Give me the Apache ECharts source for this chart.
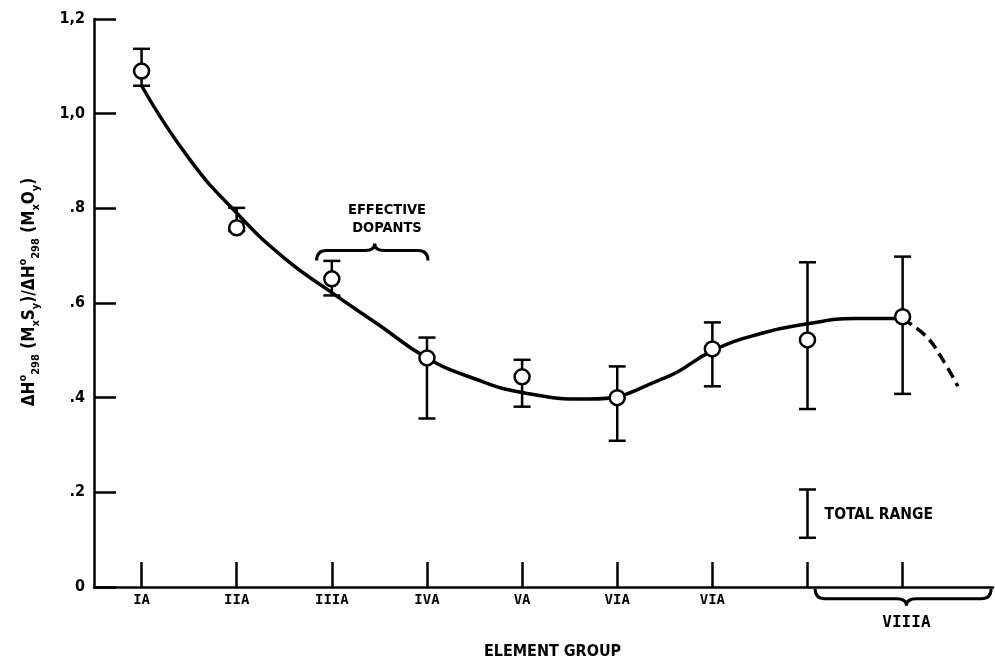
<!DOCTYPE html>
<html>
<head>
<meta charset="utf-8">
<style>
  html, body { margin: 0; padding: 0; background: #fff; }
  #chart { width: 995px; height: 665px; }
</style>
<script src="https://cdn.jsdelivr.net/npm/echarts@6/dist/echarts.min.js"></script>
</head>
<body>
<div id="chart"></div>
<script>
// element groups along x (index 0..8), last two ticks unlabeled (VIIIA brace)
const groupLabels = ['IA', 'IIA', 'IIIA', 'IVA', 'VA', 'VIA', 'VIA', '', '']
const groupPos = [0, 1, 2, 3, 4, 5, 6, 7, 8]

const yTicks = [0, 0.2, 0.4, 0.6, 0.8, 1.0, 1.2]
const yTickLabels = ['0', '.2', '.4', '.6', '.8', '1,0', '1,2']

// measured points with error bars
const pointMid = [1.090, 0.759, 0.651, 0.484, 0.444, 0.400, 0.503, 0.522, 0.571]
const pointHigh = [1.137, 0.801, 0.689, 0.527, 0.480, 0.466, 0.559, 0.686, 0.698]
const pointLow = [1.059, 0.752, 0.616, 0.356, 0.381, 0.309, 0.424, 0.376, 0.408]

// fitted curve (solid) and its dashed extension
const curveX = [0, 0.5, 1, 1.5, 2, 2.5, 3, 3.5, 4, 4.7, 5.5, 6, 6.5, 7, 7.5, 8]
const curveY = [1.059, 0.905, 0.790, 0.695, 0.622, 0.553, 0.484, 0.440, 0.411, 0.397, 0.442, 0.499, 0.535, 0.556, 0.567, 0.567]
const dashX = [8, 8.25, 8.42, 8.58]
const dashY = [0.567, 0.529, 0.481, 0.424]

// "total range" legend bar
const rangeX = 7
const rangeLow = 0.104
const rangeHigh = 0.206

const FONT = "'DejaVu Sans Condensed', 'Liberation Sans Narrow', 'DejaVu Sans', sans-serif"
const MONO = "'DejaVu Sans Mono', 'Liberation Mono', monospace"

const chart = echarts.init(document.getElementById('chart'))

function errorBar(params, api) {
  const x = api.value(0)
  const top = api.coord([x, api.value(2)])
  const bot = api.coord([x, api.value(1)])
  const w = 8.5
  const st = { stroke: '#000', lineWidth: 2.5 }
  return {
    type: 'group',
    children: [
      { type: 'line', shape: { x1: top[0], y1: top[1], x2: bot[0], y2: bot[1] }, style: st },
      { type: 'line', shape: { x1: top[0] - w, y1: top[1], x2: top[0] + w, y2: top[1] }, style: st },
      { type: 'line', shape: { x1: bot[0] - w, y1: bot[1], x2: bot[0] + w, y2: bot[1] }, style: st }
    ]
  }
}

// curly brace from x1 to x2 at level y, tip at xt; dir 1 = ends curl down
function braceRender(x1, x2, xt, y, dir) {
  return function(params, api) {
    const a = api.coord([x1, y])
    const b = api.coord([x2, y])
    const t = api.coord([xt, y])
    const yy = a[1]
    const h = 10 * dir
    const tip = 7 * dir
    const r = 10
    const d = 'M' + a[0] + ' ' + (yy + h) +
      ' Q' + a[0] + ' ' + yy + ' ' + (a[0] + r) + ' ' + yy +
      ' L' + (t[0] - r) + ' ' + yy +
      ' Q' + t[0] + ' ' + yy + ' ' + t[0] + ' ' + (yy - tip) +
      ' Q' + t[0] + ' ' + yy + ' ' + (t[0] + r) + ' ' + yy +
      ' L' + (b[0] - r) + ' ' + yy +
      ' Q' + b[0] + ' ' + yy + ' ' + b[0] + ' ' + (yy + h)
    return {
      type: 'path',
      shape: { pathData: d },
      style: { stroke: '#000', fill: null, lineWidth: 3 }
    }
  }
}

function textPoint(x, y, text, pos, size, family) {
  return {
    type: 'scatter',
    clip: false,
    symbolSize: 0,
    silent: true,
    itemStyle: { opacity: 1 },
    data: [[x, y]],
    label: {
      show: true,
      position: pos,
      distance: 0,
      formatter: text,
      color: '#000',
      fontFamily: family || FONT,
      fontWeight: 'bold',
      fontSize: size,
      lineHeight: 18,
      align: pos === 'right' ? 'left' : 'center'
    }
  }
}

const sub = { fontSize: 11, fontWeight: 'bold', fontFamily: FONT, color: '#000', verticalAlign: 'bottom', lineHeight: 24 }
const sup = { fontSize: 11, fontWeight: 'bold', fontFamily: FONT, color: '#000', verticalAlign: 'top', lineHeight: 24 }
const main = { fontSize: 17, fontWeight: 'bold', fontFamily: FONT, color: '#000', lineHeight: 24 }

chart.setOption({
  animation: false,
  backgroundColor: '#fff',
  grid: { left: 94, right: 2, top: 19, bottom: 72 },
  xAxis: {
    type: 'value',
    min: -0.5,
    max: 8.95,
    name: 'ELEMENT GROUP',
    nameLocation: 'middle',
    nameGap: 57,
    nameTextStyle: { color: '#000', fontFamily: FONT, fontWeight: 'bold', fontSize: 16, padding: [0, 0, 0, 18] },
    axisLine: { onZero: false, lineStyle: { color: '#000', width: 2.5 } },
    axisTick: { inside: true, length: 25, customValues: groupPos, lineStyle: { color: '#000', width: 2.5 } },
    axisLabel: {
      customValues: groupPos,
      formatter: v => groupLabels[Math.round(v)],
      margin: 6,
      color: '#000',
      fontFamily: MONO,
      fontWeight: 'bold',
      fontSize: 14
    },
    splitLine: { show: false }
  },
  yAxis: {
    type: 'value',
    min: 0,
    max: 1.2,
    interval: 0.2,
    name: '{m|ΔH}{s|o}{b|298}{m| (M}{b|x}{m|S}{b|y}{m|)/ΔH}{s|o}{b|298}{m| (M}{b|x}{m|O}{b|y}{m|)}',
    nameLocation: 'middle',
    nameRotate: 90,
    nameGap: 52,
    nameTextStyle: { color: '#000', rich: { m: main, s: sup, b: sub }, padding: [0, 0, 0, 22] },
    axisLine: { show: true, onZero: false, lineStyle: { color: '#000', width: 2.5 } },
    axisTick: { inside: true, length: 22, lineStyle: { color: '#000', width: 2.5 } },
    axisLabel: {
      formatter: v => yTickLabels[yTicks.findIndex(t => Math.abs(t - v) < 1e-6)],
      margin: 9,
      color: '#000',
      fontFamily: FONT,
      fontWeight: 'bold',
      fontSize: 16
    },
    splitLine: { show: false }
  },
  series: [
    {
      type: 'line',
      data: curveX.map((x, i) => [x, curveY[i]]),
      smooth: 0.5,
      showSymbol: false,
      lineStyle: { color: '#000', width: 3.5 },
      z: 2
    },
    {
      type: 'line',
      data: dashX.map((x, i) => [x, dashY[i]]),
      smooth: 0.4,
      showSymbol: false,
      lineStyle: { color: '#000', width: 3.5, type: [11, 6] },
      z: 2
    },
    {
      type: 'custom',
      renderItem: errorBar,
      encode: { x: 0, y: [1, 2] },
      data: groupPos.map((x, i) => [x, pointLow[i], pointHigh[i]]),
      z: 3
    },
    {
      type: 'custom',
      renderItem: errorBar,
      encode: { x: 0, y: [1, 2] },
      data: [[rangeX, rangeLow, rangeHigh]],
      z: 3
    },
    {
      type: 'scatter',
      symbol: 'circle',
      symbolSize: 15,
      data: groupPos.map((x, i) => [x, pointMid[i]]),
      itemStyle: { color: '#fff', borderColor: '#000', borderWidth: 2.5, opacity: 1 },
      z: 4
    },
    {
      type: 'custom',
      clip: false,
      renderItem: braceRender(1.84, 3.01, 2.45, 0.711, 1),
      data: [0]
    },
    {
      type: 'custom',
      clip: false,
      renderItem: braceRender(7.08, 8.93, 8.04, -0.025, -1),
      data: [0]
    },
    textPoint(2.58, 0.778, 'EFFECTIVE\nDOPANTS', 'inside', 14.5),
    textPoint(7.18, 0.153, 'TOTAL RANGE', 'right', 15.5),
    textPoint(8.04, -0.075, 'VIIIA', 'inside', 16, MONO)
  ]
})
</script>
</body>
</html>
